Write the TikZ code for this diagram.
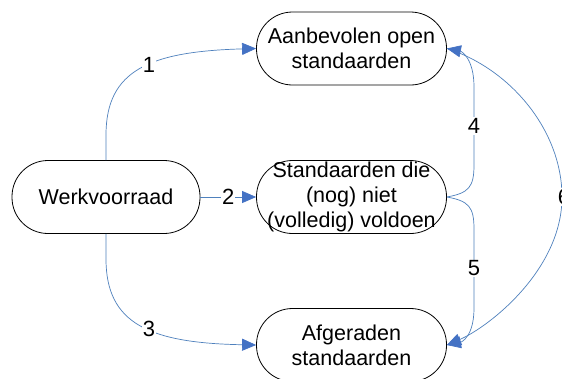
\documentclass[tikz,border=0pt]{standalone}
\usepackage{fontspec}
\setmainfont{Liberation Sans}
\usetikzlibrary{arrows.meta}
\definecolor{linkblue}{RGB}{79,129,189}
\definecolor{tipblue}{RGB}{68,114,196}
\tikzset{
  statebox/.style={draw=black, line width=0.8pt, rectangle, rounded corners=36pt,
    minimum width=190pt, minimum height=73pt, inner sep=0pt, align=center,
    font=\fontsize{21.5}{25}\selectfont},
  conn/.style={draw=linkblue, line width=0.7pt,
    -{Triangle[length=14pt,width=12pt,fill=tipblue,color=tipblue]}},
  lbl/.style={fill=white, inner sep=1pt, font=\fontsize{22}{25}\selectfont, text=black}
}
\begin{document}
\begin{tikzpicture}[x=1pt,y=-1pt]
\useasboundingbox (0,0) rectangle (562,378);
\fill[white] (0,0) rectangle (562,378);

\node[statebox] (a) at (351.5,48.5) {Aanbevolen open\\standaarden};
\node[statebox] (m) at (351.5,197) {Standaarden die\\(nog) niet\\(volledig) voldoen};
\node[statebox] (c) at (351.5,345) {Afgeraden\\standaarden};
\node[statebox, minimum width=188pt] (w) at (106,197) {Werkvoorraad};

\coordinate (w1) at (106,135);
\coordinate (w3) at (106,259);
\coordinate (m4a) at (474,165);
\coordinate (m4b) at (474,87);
\coordinate (m5a) at (474,229);
\coordinate (m5b) at (474,308);
\coordinate (r6) at (562,197);

% 1
\draw[conn] (w.north) -- (w1) .. controls +(0,-65) and +(-106,3) .. node[lbl, pos=0.55] {1} (a.west);
% 2
\draw[conn] (w.east) -- node[lbl] {2} (m.west);
% 3
\draw[conn] (w.south) -- (w3) .. controls +(0,65) and +(-106,-2) .. node[lbl, pos=0.55] {3} (c.west);
% 6
\draw[conn] (a.east) .. controls +(63,20) and +(0,-67) .. (r6)
  node[lbl, xshift=2pt] {6}
  .. controls +(0,73) and +(42,-18) .. (c.east);
% 4
\draw[conn] (m.east) .. controls +(22,-4) and +(0,22) .. (m4a) -- node[lbl] {4} (m4b)
  .. controls +(0,-28) and +(15,3) .. (a.east);
% 5
\draw[conn] (m.east) .. controls +(22,4) and +(0,-22) .. (m5a) -- node[lbl] {5} (m5b)
  .. controls +(0,28) and +(15,-3) .. (c.east);
\end{tikzpicture}
\end{document}
